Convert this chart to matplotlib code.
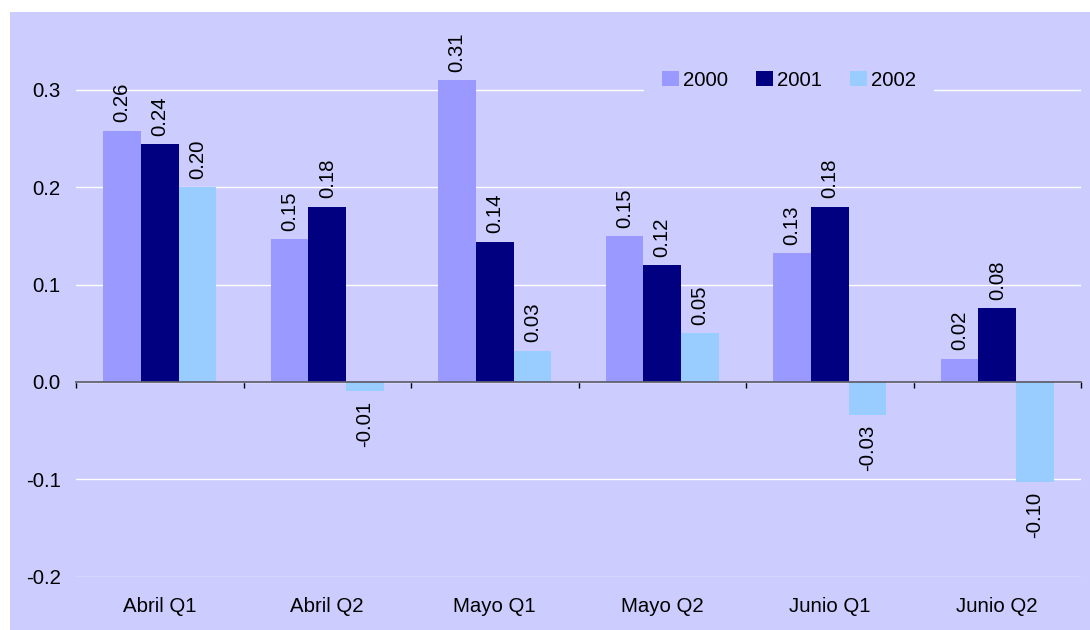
import matplotlib.pyplot as plt
from matplotlib.patches import Rectangle
import numpy as np

categories = ["Abril Q1", "Abril Q2", "Mayo Q1", "Mayo Q2", "Junio Q1", "Junio Q2"]
years = ["2000", "2001", "2002"]
values_2000 = [0.258, 0.147, 0.310, 0.150, 0.132, 0.024]
values_2001 = [0.244, 0.180, 0.144, 0.120, 0.180, 0.076]
values_2002 = [0.200, -0.009, 0.032, 0.050, -0.034, -0.103]
colors = ["#9999FF", "#000080", "#99CCFF"]
yticks = [-0.2, -0.1, 0.0, 0.1, 0.2, 0.3]
FS = 14.7


def main():
    """draw grouped bar chart"""
    plt.rcParams["font.family"] = ["Liberation Sans", "DejaVu Sans"]
    fig = plt.figure(figsize=(10.9, 6.3), dpi=100)
    fig.patch.set_facecolor("white")
    fig.add_artist(Rectangle((10 / 1090, 0), 1 - 10 / 1090, 1 - 12 / 630,
                             transform=fig.transFigure, facecolor="#CCCCFF",
                             edgecolor="none", zorder=-10))

    ax = fig.add_axes([76 / 1090, 1 - 576.6 / 630, 1005 / 1090, 561.6 / 630])
    ax.set_facecolor("#CCCCFF")

    x = np.arange(len(categories))
    width = 0.224
    series = [values_2000, values_2001, values_2002]
    for i, vals in enumerate(series):
        bars = ax.bar(x + (i - 1) * width, vals, width, color=colors[i],
                      label=years[i], zorder=3)
        for b, v in zip(bars, vals):
            if v >= 0:
                ax.annotate(f"{v:.2f}", (b.get_x() + b.get_width() / 2, v),
                            xytext=(0, 6), textcoords="offset points",
                            rotation=90, ha="center", va="bottom",
                            fontsize=FS, annotation_clip=False)
            else:
                ax.annotate(f"{v:.2f}", (b.get_x() + b.get_width() / 2, v),
                            xytext=(0, -7), textcoords="offset points",
                            rotation=90, ha="center", va="top",
                            fontsize=FS, annotation_clip=False)

    ax.set_xlim(-0.5, len(categories) - 0.5)
    ax.set_ylim(-0.2, 0.377)
    ax.set_yticks(yticks)
    ax.set_yticklabels([f"{t:.1f}" for t in yticks], fontsize=FS)
    ax.tick_params(axis="y", length=0, pad=11)
    ax.yaxis.grid(True, color="white", linewidth=1.0, zorder=1)
    ax.set_axisbelow(True)

    for s in ["top", "right", "left"]:
        ax.spines[s].set_visible(False)
    ax.spines["bottom"].set_position(("data", 0))
    ax.spines["bottom"].set_color("#606070")
    ax.spines["bottom"].set_linewidth(1.3)
    ax.spines["bottom"].set_zorder(4)
    ax.set_xticks(np.arange(len(categories) + 1) - 0.5)
    ax.set_xticklabels([])
    ax.tick_params(axis="x", direction="out", length=4, color="black", width=1)

    trans = ax.get_xaxis_transform()
    for xi, c in zip(x, categories):
        ax.text(xi, -29.5 / 561.6, c, transform=trans, ha="center",
                va="center", fontsize=FS)

    leg = ax.legend(loc="center", bbox_to_anchor=(789 / 1090, 1 - 80 / 630),
                    bbox_transform=fig.transFigure, ncol=3, fontsize=FS,
                    frameon=True, handlelength=0.8, handleheight=0.8,
                    handletextpad=0.2, columnspacing=1.4, borderpad=0.9,
                    fancybox=False)
    leg.get_frame().set_facecolor("#CCCCFF")
    leg.get_frame().set_edgecolor("none")
    leg.get_frame().set_alpha(1)

    plt.savefig("out.png", dpi=100, facecolor=fig.get_facecolor())


if __name__ == "__main__":
    main()
